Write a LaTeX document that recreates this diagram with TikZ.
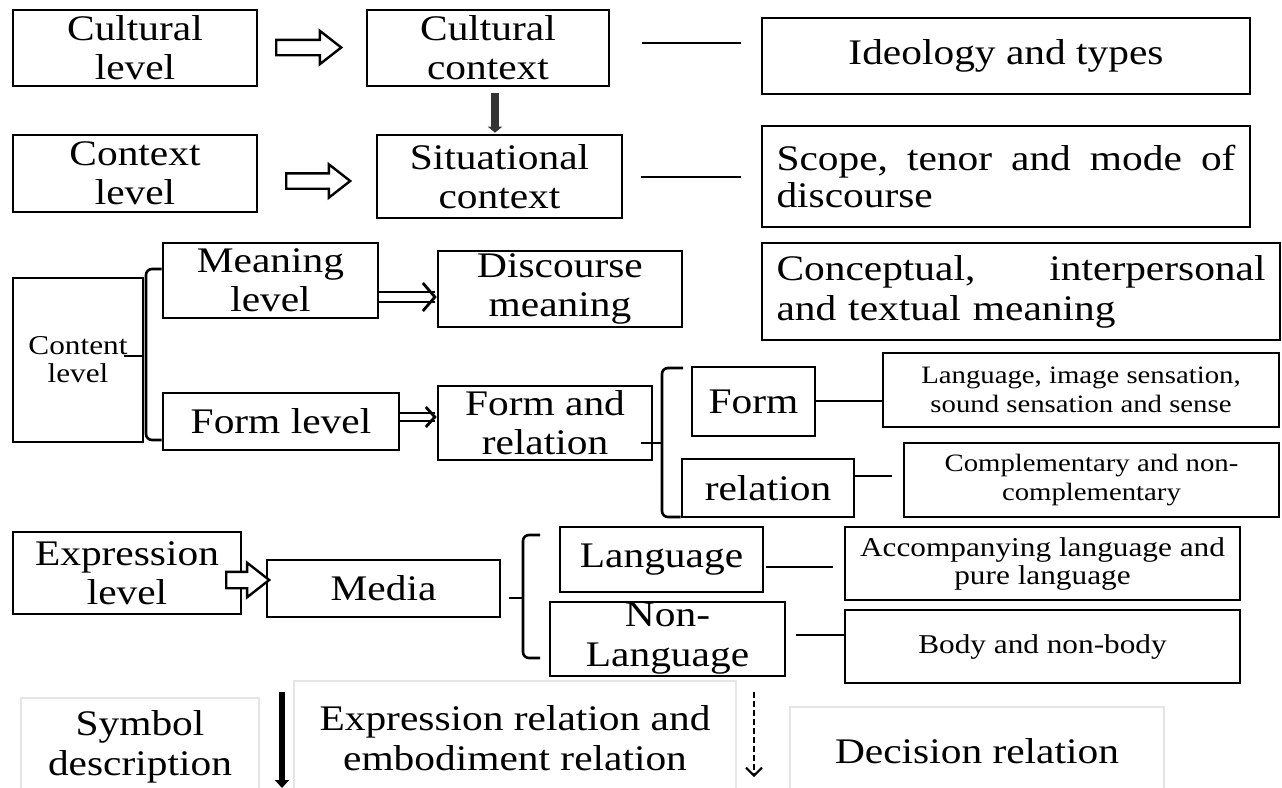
\documentclass[tikz,border=0pt]{standalone}
\usepackage{fontspec}
\setmainfont{Liberation Serif}[FakeStretch=1.15]
\usetikzlibrary{arrows.meta,shapes.arrows}
\begin{document}
\begin{tikzpicture}[x=0.5pt,y=-0.5pt,
  box/.style={draw=black, line width=1.3pt, inner sep=0pt, align=center,
    font=\fontsize{18}{19.5}\selectfont},
  sz/.style 2 args={minimum width=#1pt, minimum height=#2pt},
  smalltxt/.style={font=\fontsize{12.5}{14.5}\selectfont},
  midtxt/.style={font=\fontsize{13.6}{14}\selectfont},
  lgbox/.style={draw=black!10, line width=0.6pt, inner sep=0pt, align=center,
    font=\fontsize{18}{20}\selectfont},
  link/.style={line width=1.3pt},
  brk/.style={line width=1.3pt, rounded corners=3pt},
  blk/.style={single arrow, draw=black, line width=1.2pt, fill=white, inner sep=3.25pt,
    single arrow head extend=4.5pt, single arrow tip angle=76, anchor=tail},
  dbl/.style={double, double distance=4pt, line width=1pt},
  dhead/.style={draw=white, line width=1.5pt,
    -{Straight Barb[color=black, width=14pt, length=6pt, line width=1.4pt]}}
]
\useasboundingbox (0,0) rectangle (1282,788);

% row 1
\node[box, sz={122}{38}] (cl) at (135,48) {Cultural\\level};
\node[box, sz={121}{38}] (cc) at (488,48) {Cultural\\context};
\node[box, sz={244}{38}] (ideo) at (1006,56) {Ideology and types};
% row 2
\node[box, sz={122}{38.5}] (ctl) at (135,173.5) {Context\\level};
\node[box, sz={122.5}{41.5}] (sc) at (499.5,176.5) {Situational\\context};
\node[box, sz={244}{50.5}, align=left, text width=229.5pt,
  font=\fontsize{18}{18.5}\selectfont] (scope) at (1006,176.5)
  {Scope,\hfill tenor\hfill and\hfill mode\hfill of\\discourse};
% row 3
\node[box, sz={65}{82}, midtxt] (content) at (78,360) {Content\\level};
\node[box, sz={107.5}{37.5}] (ml) at (270.5,280.5) {Meaning\\level};
\node[box, sz={122}{38}] (dm) at (560,289) {Discourse\\meaning};
\node[box, sz={259}{48.5}, align=left, text width=244.5pt,
  font=\fontsize{18}{20}\selectfont] (concept) at (1021,291.5)
  {Conceptual,\hfill interpersonal\\and textual meaning};
\node[box, sz={118}{28.5}] (fl) at (281,421.5) {Form level};
\node[box, sz={107}{37}] (fr) at (545,423) {Form and\\relation};
\node[box, sz={61.5}{34.5}] (form) at (753.5,401.5) {Form};
\node[box, sz={198}{37}, smalltxt] (lis) at (1081,390) {Language, image sensation,\\sound sensation and sense};
\node[box, sz={86}{29}] (rel) at (768,488) {relation};
\node[box, sz={187.5}{37}, smalltxt] (comp) at (1091.5,480) {Complementary and non-\\complementary};
% row 4
\node[box, sz={114}{41}] (el) at (127,573) {Expression\\level};
\node[box, sz={116.5}{28.5}] (media) at (383.5,588.5) {Media};
\node[box, sz={101.5}{32.5}] (lang) at (661.5,559.5) {Language};
\node[box, sz={117.5}{37}, font=\fontsize{18}{20}\selectfont] (nonlang) at (667.5,639) {Non-\\Language};
\node[box, sz={197.5}{36.5}, midtxt] (acc) at (1042.5,563.5) {Accompanying language and\\pure language};
\node[box, sz={197.5}{36.5}, midtxt] (body) at (1042.5,646.5) {Body and non-body};

% block arrows
\node[blk, minimum height=32.5pt] (a1) at (275,47.5) {};
\node[blk, minimum height=32pt] (a2) at (285,181) {};
\node[blk, minimum height=21.5pt, inner sep=3.5pt] (a3) at (225,580) {};

% vertical arrow
\draw[line width=4pt, draw=black!80, -{Triangle[width=7pt,length=3pt]}, shorten <=3pt, shorten >=0.5pt]
  (cc.south -| 495,0) -- (sc.north -| 495,0);

% double arrows
\draw[dbl, shorten >=1pt] (ml.east |- 0,297) -- (dm.west |- 0,297);
\draw[dhead] (ml.east |- 0,297) -- (dm.west |- 0,297);
\draw[dbl, double distance=3pt, shorten >=1pt] (fl.east |- 0,417) -- (fr.west |- 0,417);
\draw[dhead, -{Straight Barb[color=black, width=10pt, length=4.5pt, line width=1.4pt]}]
  (fl.east |- 0,417) -- (fr.west |- 0,417);

% lines
\draw[link, shorten <=16pt, shorten >=10pt] (cc.east |- 0,43) -- (ideo.west |- 0,43);
\draw[link, shorten <=9pt, shorten >=10pt] (sc.east |- 0,177) -- (scope.west |- 0,177);
\draw[link] (form.east |- 0,401) -- (lis.west |- 0,401);
\draw[link, shorten >=5.5pt] (rel.east |- 0,476) -- (comp.west |- 0,476);
\draw[link, shorten <=1pt, shorten >=5.5pt] (lang.east |- 0,567) -- (acc.west |- 0,567);
\draw[link, shorten <=5pt] (nonlang.east |- 0,635) -- (body.west |- 0,635);

% brackets
\draw[brk] (ml.west |- 0,269) -- (146,269) -- (146,440) -- (fl.west |- 0,440);
\draw[link] (content.east |- 0,356) -- ++(-20,0);
\draw[brk] (683,368) -- (662,368) -- (662,517) -- (rel.west |- 0,517);
\draw[link, shorten <=-6pt] (fr.east |- 0,443) -- (662,443);
\draw[link, shorten <=4pt] (media.east |- 0,598) -- (523,598);
\draw[brk] (540,535) -- (523,535) -- (523,658) -- (540,658);

% legend
\node[lgbox, sz={119}{49}] (sym) at (140,747) {Symbol\\description};
\node[lgbox, sz={221}{57.5}] (exrel) at (515,738.5) {Expression relation and\\embodiment relation};
\node[lgbox, sz={187}{44.5}] (dec) at (977,751.5) {Decision relation};
\coordinate (sa1) at (282,692);
\coordinate (sa2) at (282,788);
\draw[line width=3pt, -{Triangle[width=7pt,length=4pt]}] (sa1) -- (sa2);
\coordinate (da1) at (754,692);
\coordinate (da2) at (754,777);
\draw[line width=1pt, dash pattern=on 3pt off 1.5pt, -{Straight Barb[width=8pt,length=4pt]}] (da1) -- (da2);
\end{tikzpicture}
\end{document}
